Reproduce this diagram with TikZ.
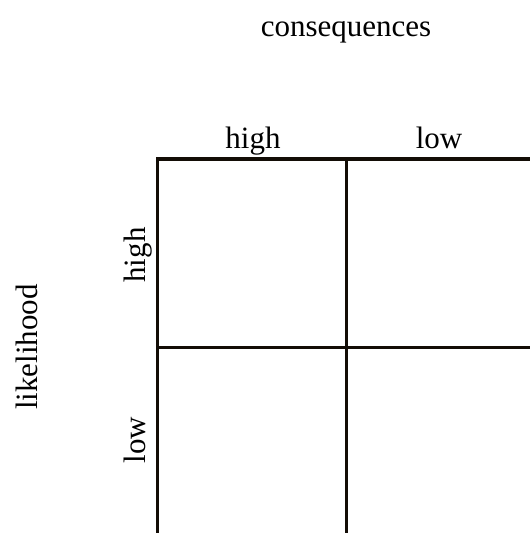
\documentclass[tikz,border=0pt]{standalone}
\usepackage{fontspec}
\setmainfont{Liberation Serif}
\usetikzlibrary{positioning}

\begin{document}
\begin{tikzpicture}[x=1pt, y=-1pt,
  lbl/.style={inner sep=0pt, anchor=base, font=\fontsize{31}{36}\selectfont},
  side/.style={lbl, rotate=90},
  grid/.style={line width=3.2pt, color=black!90!brown, line join=miter}
]
\useasboundingbox (0,0) rectangle (530,533);
% grid corners
\coordinate (tl) at (157.5,159);
\coordinate (tm) at (346.5,159);
\coordinate (tr) at (532,159);
\coordinate (ml) at (157.5,347.5);
\coordinate (mr) at (532,347.5);
\coordinate (bl) at (157.5,535);
\coordinate (bm) at (346.5,535);
% labels
\node[lbl] (conseq) at (346,36) {consequences};
\node[lbl] (chigh) at (253,148) {high};
\node[lbl] (clow) at (439,148) {low};
\node[side] (lhigh) at (145,255) {high};
\node[side] (llow) at (145,440) {low};
\node[side] (likely) at (37,347) {likelihood};
% the matrix
\draw[grid] (tr) -- (tl) -- (bl);
\draw[grid] (tm) -- (bm);
\draw[grid] (ml) -- (mr);
\end{tikzpicture}
\end{document}
